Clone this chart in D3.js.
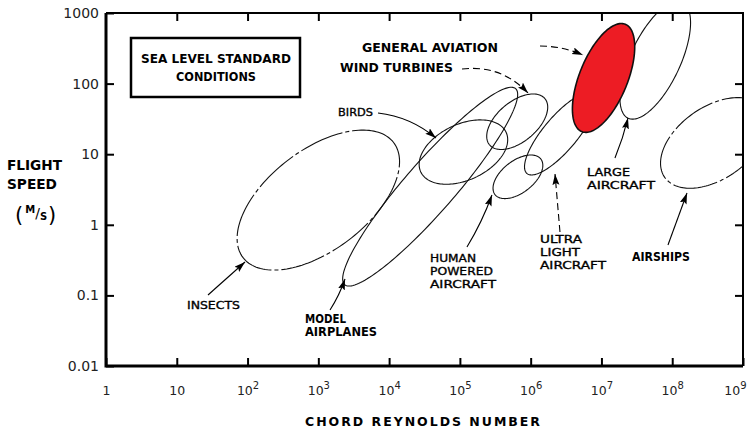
<!DOCTYPE html>
<html><head><meta charset="utf-8">
<script src="https://cdn.jsdelivr.net/npm/d3@7"></script>
<style>body{margin:0;background:#fff} svg{display:block}</style>
</head><body><svg id="c" width="747" height="428"></svg>
<script>
// ---------- data (log10 units: Reynolds number, flight speed m/s) ----------
const categories   = ["Insects","Model airplanes","Birds","Wind turbines","Human powered aircraft","Ultra light aircraft","Large aircraft","Airships","General aviation"];
const centerLogRe  = [3.00, 4.58, 5.05, 5.81, 5.82, 6.42, 7.76, 8.59, 7.03];
const centerLogV   = [0.35, 0.54, 1.03, 1.46, 0.68, 1.29, 2.33, 1.16, 2.08];
const majorDecades = [1.34, 1.84, 0.665, 0.51, 0.41, 0.735, 0.905, 0.85, 0.82];
const minorDecades = [0.71, 0.354, 0.396, 0.283, 0.226, 0.24, 0.354, 0.51, 0.34];
const tiltDeg      = [37.5, 49, 25, 40, 38, 50, 65, 35, 68];
const highlighted  = [false,false,false,false,false,false,false,false,true];
const xTicks = [1,10,1e2,1e3,1e4,1e5,1e6,1e7,1e8,1e9];
const xTickBase = ["1","10","10","10","10","10","10","10","10","10"];
const xTickExp  = ["","","2","3","4","5","6","7","8","9"];
const yTicks = [0.01,0.1,1,10,100,1000];
const yTickLabels = ["0.01","0.1","1","10","100","1000"];

// annotation layout (positions in log10 data units)
const annotations = [
 {lines:["INSECTS"], at:[1.144,-1.122], widths:[53], bold:false, from:[1.441,-0.994], to:[1.964,-0.527], bend:0, dash:false},
 {lines:["MODEL","AIRPLANES"], at:[2.812,-1.334], widths:[41,72], bold:true, from:[3.165,-1.207], to:[3.377,-0.768], bend:0.06, dash:false},
 {lines:["HUMAN","POWERED","AIRCRAFT"], at:[4.578,-0.47], widths:[46,63,66], bold:false, from:[5.100,-0.314], to:[5.453,0.422], bend:0.05, dash:false},
 {lines:["ULTRA","LIGHT","AIRCRAFT"], at:[6.132,-0.201], widths:[42,40,66], bold:false, from:[6.414,-0.102], to:[6.344,0.720], bend:0, dash:true},
 {lines:["AIRSHIPS"], at:[7.431,-0.456], widths:[58], bold:true, from:[7.940,-0.286], to:[8.209,0.450], bend:0, dash:false},
 {lines:["LARGE","AIRCRAFT"], at:[6.796,0.762], widths:[43,68], bold:false, from:[7.191,0.946], to:[7.375,1.513], bend:0.04, dash:false},
 {lines:["BIRDS"], at:[3.278,1.598], widths:[35], bold:false, from:[3.843,1.584], to:[4.662,1.229], bend:-0.15, dash:false},
 {lines:["WIND TURBINES"], at:[3.306,2.221], widths:[113], bold:true, from:[5.030,2.207], to:[5.962,1.867], bend:-0.25, dash:true},
 {lines:["GENERAL AVIATION"], at:[3.617,2.518], widths:[136], bold:true, from:[6.132,2.533], to:[6.739,2.405], bend:-0.1, dash:true}
];

// ---------- layout ----------
const svg = d3.select("#c");
const L=106, R=743, T=13, B=366;
const x = d3.scaleLog().domain([1,1e9]).range([L,R]);
const y = d3.scaleLog().domain([0.01,1000]).range([B,T]);
const px = lx => x(Math.pow(10,lx));
const py = ly => y(Math.pow(10,ly));
const FONT = "'DejaVu Sans', sans-serif";

svg.append("defs").append("clipPath").attr("id","plot")
  .append("rect").attr("x",L).attr("y",T).attr("width",R-L).attr("height",B-T);
const mk = svg.select("defs").append("marker").attr("id","ah")
  .attr("markerUnits","userSpaceOnUse").attr("markerWidth",12).attr("markerHeight",8)
  .attr("refX",11).attr("refY",3.5).attr("orient","auto");
mk.append("path").attr("d","M0,0 L11,3.5 L0,7 L2,3.5 z").attr("fill","#000");

// ---------- ellipses ----------
const line = d3.line().curve(d3.curveLinearClosed);
const N = 160;
const g = svg.append("g").attr("clip-path","url(#plot)");
categories.forEach((c,i)=>{
  const th = tiltDeg[i]*Math.PI/180, a=majorDecades[i], b=minorDecades[i];
  const pts = d3.range(N).map(k=>{
    const t = 2*Math.PI*k/N, u=a*Math.cos(t), v=b*Math.sin(t);
    const lx = centerLogRe[i] + u*Math.cos(th) - v*Math.sin(th);
    const ly = centerLogV[i] + u*Math.sin(th) + v*Math.cos(th);
    return [px(lx), py(ly)];
  });
  g.append("path").attr("d",line(pts))
    .attr("fill", highlighted[i] ? "#ed1c24" : "none")
    .attr("stroke","#111")
    .attr("stroke-width", highlighted[i] ? 1.6 : 1.1)
    .attr("stroke-dasharray", (!highlighted[i] && (i===0||i===7)) ? "45,3,4,3" : null);
});

// ---------- axes ----------
const yAx = svg.append("g").attr("transform",`translate(${L},0)`)
  .call(d3.axisLeft(y).tickValues(yTicks).tickSize(-8).tickPadding(7)
        .tickFormat((d,i)=>yTickLabels[i]));
yAx.select(".domain").remove();
yAx.selectAll("line").attr("stroke","#000").attr("stroke-width",2);
yAx.selectAll("text").attr("font-family",FONT).attr("font-size",14).attr("fill","#222");

const xAx = svg.append("g").attr("transform",`translate(0,${B})`)
  .call(d3.axisBottom(x).tickValues(xTicks).tickSize(-8).tickPadding(20).tickFormat(()=>""));
xAx.select(".domain").remove();
xAx.selectAll("line").attr("stroke","#000").attr("stroke-width",2);
xAx.selectAll(".tick text").each(function(d,i){
  const t = d3.select(this).attr("font-family",FONT).attr("font-size",12.5).attr("fill","#222");
  if (i===xTicks.length-1) t.attr("x",-8);
  t.append("tspan").text(xTickBase[i]);
  if (xTickExp[i]) t.append("tspan").attr("font-size",10).attr("dy","-0.6em").text(xTickExp[i]);
});

const topAx = svg.append("g").attr("transform",`translate(0,${T})`)
  .call(d3.axisTop(x).tickValues(xTicks.slice(1,-1)).tickSize(-8).tickFormat(()=>""));
topAx.select(".domain").remove();
topAx.selectAll("line").attr("stroke","#000").attr("stroke-width",2);
const rAx = svg.append("g").attr("transform",`translate(${R},0)`)
  .call(d3.axisRight(y).tickValues(yTicks.slice(1,-1)).tickSize(-8).tickFormat(()=>""));
rAx.select(".domain").remove();
rAx.selectAll("line").attr("stroke","#000").attr("stroke-width",2);

// frame
svg.append("path").attr("d",`M${L},${T} H${R} V${B}`).attr("fill","none").attr("stroke","#000").attr("stroke-width",2);
svg.append("path").attr("d",`M${L},${T} V${B} H${R}`).attr("fill","none").attr("stroke","#000").attr("stroke-width",3);

// ---------- annotations ----------
const ann = svg.append("g");
annotations.forEach(an=>{
  const x0=px(an.at[0]), y0=py(an.at[1]);
  an.lines.forEach((s,j)=>{
    ann.append("text").attr("x",x0).attr("y",y0+4.5+j*13)
      .attr("font-family",FONT).attr("font-size",an.bold?11.5:11)
      .attr("font-weight",an.bold?"bold":"normal")
      .attr("stroke",an.bold?null:"#000").attr("stroke-width",an.bold?null:0.35)
      .attr("textLength",an.widths[j]).attr("lengthAdjust","spacingAndGlyphs")
      .text(s);
  });
  const x1=px(an.from[0]), y1=py(an.from[1]), x2=px(an.to[0]), y2=py(an.to[1]);
  const dx=x2-x1, dy=y2-y1, len=Math.hypot(dx,dy);
  const cx=(x1+x2)/2 + an.bend*len*(-dy/len), cy=(y1+y2)/2 + an.bend*len*(dx/len);
  ann.append("path").attr("d",`M${x1},${y1} Q${cx},${cy} ${x2},${y2}`)
    .attr("fill","none").attr("stroke","#000").attr("stroke-width",1.1)
    .attr("stroke-dasharray",an.dash?"7,4":null).attr("marker-end","url(#ah)");
});

// condition box
const box = svg.append("g");
box.append("rect").attr("x",131).attr("y",38).attr("width",169).attr("height",59)
  .attr("fill","none").attr("stroke","#000").attr("stroke-width",2.5);
box.append("text").attr("x",141).attr("y",63).attr("font-family",FONT).attr("font-weight","bold")
  .attr("font-size",12).attr("textLength",150).attr("lengthAdjust","spacingAndGlyphs").text("SEA LEVEL STANDARD");
box.append("text").attr("x",176).attr("y",81).attr("font-family",FONT).attr("font-weight","bold")
  .attr("font-size",11.5).attr("textLength",80).attr("lengthAdjust","spacingAndGlyphs").text("CONDITIONS");

// axis titles
const yt = svg.append("g").attr("font-family",FONT).attr("font-weight","bold");
yt.append("text").attr("x",7).attr("y",170).attr("font-size",13.5).attr("textLength",55).attr("lengthAdjust","spacingAndGlyphs").text("FLIGHT");
yt.append("text").attr("x",7).attr("y",189).attr("font-size",13.5).attr("textLength",50).attr("lengthAdjust","spacingAndGlyphs").text("SPEED");
const un = yt.append("text").attr("x",15).attr("y",222).attr("font-size",21).attr("font-weight","normal");
un.append("tspan").text("(");
un.append("tspan").attr("font-size",10).attr("font-weight","bold").attr("dx",2).attr("dy",-9).text("M");
un.append("tspan").attr("font-size",14).attr("dy",5).text("/");
un.append("tspan").attr("font-size",10).attr("font-weight","bold").attr("dy",2).text("S");
un.append("tspan").attr("font-size",21).attr("dx",1).attr("dy",2).text(")");
svg.append("text").attr("x",305).attr("y",426).attr("font-family",FONT).attr("font-weight","bold")
  .attr("font-size",12.5).attr("textLength",235).attr("lengthAdjust","spacing").text("CHORD  REYNOLDS  NUMBER");
</script></body></html>
